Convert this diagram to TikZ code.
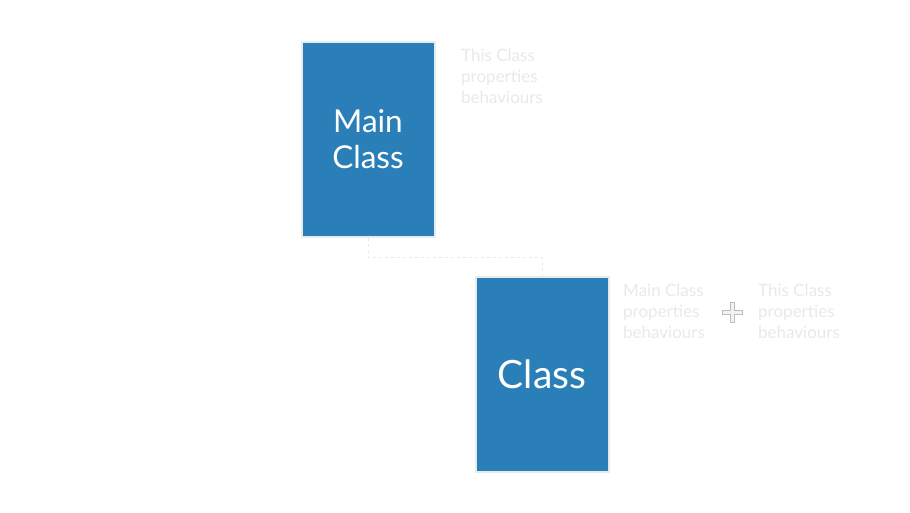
\documentclass[tikz,border=0pt]{standalone}
\usepackage{fontspec}
\setmainfont{Lato}
\usetikzlibrary{positioning,calc}
\definecolor{classblue}{HTML}{2A7FB8}
\definecolor{rimgray}{HTML}{E6ECEC}
\definecolor{ghost}{HTML}{E6EAEA}
\definecolor{plusline}{HTML}{BDBDBD}
\definecolor{plusfill}{HTML}{F2F2F2}
\tikzset{
  classbox/.style={draw=rimgray,line width=2pt,fill=classblue,text=white,
    minimum width=133pt,minimum height=195pt,inner sep=0pt,align=center},
  ghosttext/.style={text=ghost,font=\fontsize{17}{21}\selectfont,align=left,
    anchor=north west,inner sep=0pt},
  link/.style={draw=rimgray,dashed,line width=0.8pt}
}
\begin{document}
\begin{tikzpicture}[x=1pt,y=-1pt]
\useasboundingbox (0,0) rectangle (910,512);

\node[classbox,font=\fontsize{31.5}{36}\selectfont] (main) at (368,139.5) {Main\\Class};
\node[classbox,font=\fontsize{39}{44}\selectfont] (cls) at (542,374.5) {Class};

\node[ghosttext] (mainnote) at (461,48.5) {This Class\\properties\\behaviours};
\node[ghosttext] (inherit) at (623,283.5) {Main Class\\properties\\behaviours};
\node[ghosttext] (own) at (758,283.5) {This Class\\properties\\behaviours};

% plus sign between the two lists
\coordinate (plus) at (732,312);
\filldraw[draw=plusline,fill=plusfill,line width=0.6pt,shift={(plus)}]
  (-2,-10)--(2,-10)--(2,-2)--(10,-2)--(10,2)--(2,2)--(2,10)--(-2,10)--(-2,2)
  --(-10,2)--(-10,-2)--(-2,-2)--cycle;

\draw[link] (main.south) |- ($(main.south)!0.5!(cls.north)$) -| (cls.north);
\end{tikzpicture}
\end{document}
